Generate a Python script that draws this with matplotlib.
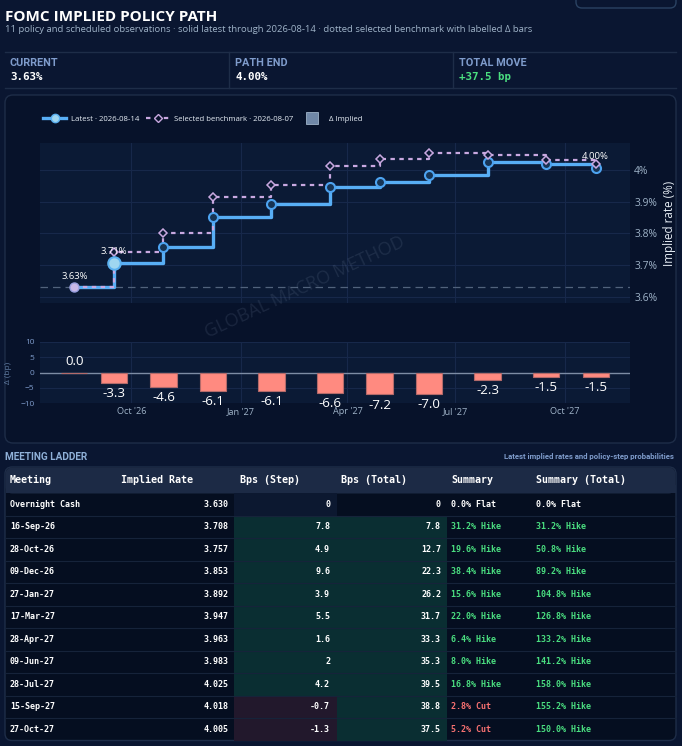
import matplotlib
matplotlib.use("Agg")
import matplotlib.pyplot as plt
import matplotlib.dates as mdates
from matplotlib.patches import FancyBboxPatch, Rectangle
from matplotlib.lines import Line2D
import numpy as np
import pandas as pd

W, H = 682, 746

# ---- data ----
meetings = ["Overnight Cash", "16-Sep-26", "28-Oct-26", "09-Dec-26", "27-Jan-27",
            "17-Mar-27", "28-Apr-27", "09-Jun-27", "28-Jul-27", "15-Sep-27", "27-Oct-27"]
dates = pd.to_datetime(["2026-08-14", "2026-09-16", "2026-10-28", "2026-12-09", "2027-01-27",
                        "2027-03-17", "2027-04-28", "2027-06-09", "2027-07-28", "2027-09-15",
                        "2027-10-27"])
implied = [3.630, 3.708, 3.757, 3.853, 3.892, 3.947, 3.963, 3.983, 4.025, 4.018, 4.005]
delta_bp = [0.0, -3.3, -4.6, -6.1, -6.1, -6.6, -7.2, -7.0, -2.3, -1.5, -1.5]
step_bp = [0, 7.8, 4.9, 9.6, 3.9, 5.5, 1.6, 2, 4.2, -0.7, -1.3]
total_bp = [0, 7.8, 12.7, 22.3, 26.2, 31.7, 33.3, 35.3, 39.5, 38.8, 37.5]
step_prob = [0.0, 31.2, 19.6, 38.4, 15.6, 22.0, 6.4, 8.0, 16.8, 2.8, 5.2]
total_prob = [0.0, 31.2, 50.8, 89.2, 104.8, 126.8, 133.2, 141.2, 158.0, 155.2, 150.0]
columns = ["Meeting", "Implied Rate", "Bps (Step)", "Bps (Total)", "Summary", "Summary (Total)"]

benchmark = np.array(implied) - np.array(delta_bp) / 100.0

# ---- colours ----
PAGE = "#0a1631"
PANEL = "#07122a"
PLOT = "#0b1a35"
LINE = "#1e2d48"
GRID = "#17284a"
MUTED = "#9fb3c8"
LABEL = "#7f9ccc"
BLUE = "#58aef5"
LAV = "#c8a8e0"
GREEN = "#4ade80"
RED = "#f87171"
SANS = ["Open Sans", "DejaVu Sans"]
COND = ["Roboto", "DejaVu Sans"]
MONO = ["DejaVu Sans Mono"]

fig = plt.figure(figsize=(W / 100, H / 100), dpi=100, facecolor=PAGE)

bg = fig.add_axes([0, 0, 1, 1], zorder=0)
bg.set_xlim(0, W)
bg.set_ylim(H, 0)
bg.axis("off")

# header
bg.text(5, 17, "FOMC IMPLIED POLICY PATH", fontsize=11, fontweight="bold",
        color="white", family=SANS, va="center")
bg.text(5, 30, "11 policy and scheduled observations · solid latest through 2026-08-14 · "
        "dotted selected benchmark with labelled \u0394 bars",
        fontsize=6.8, color=MUTED, family=SANS, va="center")
bg.add_patch(FancyBboxPatch((576, -12), 100, 20, boxstyle="round,pad=0,rounding_size=6",
                            fc=PAGE, ec="#2a4262", lw=1))

# stat strip
bg.plot([5, 676], [52, 52], color=LINE, lw=1)
bg.plot([5, 676], [88, 88], color=LINE, lw=1)
for xv in [229, 453]:
    bg.plot([xv, xv], [52, 88], color=LINE, lw=1)
stats = [("CURRENT", "3.63%", "white"), ("PATH END", "4.00%", "white"),
         ("TOTAL MOVE", "+37.5 bp", GREEN)]
for (lab, val, col), xs in zip(stats, [10, 235, 459]):
    bg.text(xs, 63, lab, fontsize=7.8, fontweight="bold", color=LABEL, family=COND, va="center")
    bg.text(xs, 77, val, fontsize=7.8, fontweight="bold", color=col, family=MONO, va="center")

# chart panel
bg.add_patch(FancyBboxPatch((5, 95), 671, 348, boxstyle="round,pad=0,rounding_size=8",
                            fc=PANEL, ec=LINE, lw=1))

xmin, xmax = mdates.date2num(pd.Timestamp("2026-07-16")), mdates.date2num(pd.Timestamp("2027-11-25"))
xd = mdates.date2num(dates)

# main path axes
ax = fig.add_axes([40 / W, 1 - 303 / H, 590 / W, 160 / H], zorder=2)
ax.set_facecolor(PLOT)
ax.set_xlim(xmin, xmax)
ax.set_ylim(3.581, 4.085)
for s in ax.spines.values():
    s.set_visible(False)
ax.xaxis.set_major_locator(mdates.MonthLocator(bymonth=[1, 4, 7, 10]))
ax.set_xticklabels([])
ax.tick_params(axis="x", length=0)
ax.set_yticks([3.6, 3.7, 3.8, 3.9, 4.0])
ax.set_yticklabels([f"{v:g}%" for v in [3.6, 3.7, 3.8, 3.9, 4.0]])
ax.yaxis.tick_right()
ax.yaxis.set_label_position("right")
ax.tick_params(axis="y", length=0, pad=3, labelsize=7.4, labelcolor=MUTED)
for lab in ax.get_yticklabels():
    lab.set_family(SANS)
ax.set_ylabel("Implied rate (%)", fontsize=8.4, color="#e6edf5", family=SANS, labelpad=4)
ax.grid(True, color=GRID, lw=0.8)
ax.set_axisbelow(True)
ax.axhline(implied[0], color="#51627c", lw=0.9, ls=(0, (6, 4)), zorder=1)

ax.plot(xd, implied, drawstyle="steps-post", color=BLUE, lw=2.4, zorder=3)
ax.plot(xd[2:], implied[2:], ls="none", marker="o", ms=6.5, mfc="#173454", mec="#4da3f0",
        mew=1.5, zorder=5)
ax.plot(xd, benchmark, drawstyle="steps-post", color=LAV, lw=1.6, ls=(0, (2, 2)), zorder=4)
ax.plot(xd[1:], benchmark[1:], ls="none", marker="D", ms=4.5, mfc=PLOT, mec=LAV, mew=1.1,
        zorder=5)
ax.plot(xd[0], implied[0], marker="o", ms=6.5, mfc="#c9b8e8", mec="#9aa0e0", mew=1, zorder=6)
ax.plot(xd[1], implied[1], marker="o", ms=9, mfc="#9fd6f0", mec="#5ab0f0", mew=1.5, zorder=6)
for i in [0, 1, len(implied) - 1]:
    ax.annotate(f"{implied[i]:.2f}%", (xd[i], implied[i]), xytext=(0, 5),
                textcoords="offset points", ha="center", va="bottom", fontsize=6.8,
                color="white", family=SANS, zorder=7)

handles = [Line2D([], [], color=BLUE, lw=2.4, marker="o", ms=6, mfc="#9fd6f0", mec="#5ab0f0"),
           Line2D([], [], color=LAV, lw=1.6, ls=(0, (2, 2)), marker="D", ms=4.5, mfc=PANEL,
                  mec=LAV),
           Line2D([], [], ls="none", marker="s", ms=9, mfc="#7088a8", mec="#9fb3c8", mew=0.6)]
leg = fig.legend(handles, ["Latest · 2026-08-14", "Selected benchmark · 2026-08-07", "\u0394 Implied"],
                 loc="center left", bbox_to_anchor=(36 / W, 1 - 119 / H), ncol=3, frameon=False,
                 fontsize=5.6, handlelength=3.0, columnspacing=0.9, handletextpad=0.6)
for t in leg.get_texts():
    t.set_color("#e6edf5")
    t.set_family(SANS)

# delta bars axes
bx = fig.add_axes([40 / W, 1 - 403 / H, 590 / W, 61 / H], zorder=2)
bx.set_facecolor(PLOT)
bx.set_xlim(xmin, xmax)
bx.set_ylim(-10, 10)
for s in bx.spines.values():
    s.set_visible(False)
bx.xaxis.set_major_locator(mdates.MonthLocator(bymonth=[1, 4, 7, 10]))
bx.xaxis.set_major_formatter(mdates.DateFormatter("%b '%y"))
bx.set_yticks([-10, -5, 0, 5, 10])
bx.tick_params(axis="x", length=0, pad=3, labelsize=6.6, labelcolor=MUTED)
bx.tick_params(axis="y", length=0, pad=4, labelsize=6, labelcolor=LABEL)
for lab in bx.get_xticklabels() + bx.get_yticklabels():
    lab.set_family(SANS)
bx.grid(True, color=GRID, lw=0.8)
bx.set_axisbelow(True)
bx.axhline(0, color="#7d8ca4", lw=1, zorder=2)
bx.set_ylabel("\u0394 (bp)", fontsize=6, color="#5f7aa0", family=SANS, labelpad=6)
bx.bar(xd, delta_bp, width=22, color="#ff8a80", edgecolor="#b36a6a", lw=0.8, zorder=3)
for x, v in zip(xd, delta_bp):
    if v < 0:
        bx.annotate(f"{v:.1f}", (x, v), xytext=(0, -3), textcoords="offset points",
                    ha="center", va="top", fontsize=9.6, color="white", family=SANS,
                    zorder=6, annotation_clip=False)
    else:
        bx.annotate(f"{v:.1f}", (x, v), xytext=(0, 3), textcoords="offset points",
                    ha="center", va="bottom", fontsize=9.6, color="white", family=SANS,
                    zorder=6, annotation_clip=False)

fig.text(305 / W, 1 - 287 / H, "GLOBAL MACRO METHOD", rotation=25, fontsize=13,
         color="#8a9ab8", alpha=0.15, ha="center", va="center", family=SANS, zorder=10)

# meeting ladder
bg.text(5, 457, "MEETING LADDER", fontsize=7.2, fontweight="bold", color="#8fb0d8",
        family=COND, va="center")
bg.text(674, 457, "Latest implied rates and policy-step probabilities", fontsize=5.6,
        fontweight="bold", color=LABEL, family=COND, va="center", ha="right")

top, hdr, rowh = 467, 26, 22.5
bottom = top + hdr + rowh * len(meetings)
bg.add_patch(FancyBboxPatch((5, top), 671, bottom - top, boxstyle="round,pad=0,rounding_size=7",
                            fc="#050e20", ec=LINE, lw=1))
bg.add_patch(FancyBboxPatch((5.5, top + 0.5), 670, hdr, boxstyle="round,pad=0,rounding_size=7",
                            fc="#1c2a45", ec="none"))
bg.add_patch(Rectangle((5.5, top + hdr - 8), 670, 8, fc="#1c2a45", ec="none"))

hdr_x = [10, 121, 240, 341, 451, 536]
for c, xs in zip(columns, hdr_x):
    bg.text(xs, top + hdr / 2, c, fontsize=7.2, fontweight="bold", color="white",
            family=MONO, va="center")

for i, name in enumerate(meetings):
    y0 = top + hdr + rowh * i
    yc = y0 + rowh / 2
    st, tt = step_bp[i], total_bp[i]
    if st > 0:
        fc_s = "#0a2e32"
    elif st < 0:
        fc_s = "#22182c"
    else:
        fc_s = "#0c1830"
    bg.add_patch(Rectangle((234, y0), 103, rowh, fc=fc_s, ec="none"))
    if tt > 0:
        bg.add_patch(Rectangle((337, y0), 110, rowh, fc="#0a2e32", ec="none"))
    if i > 0:
        bg.plot([5.5, 675.5], [y0, y0], color="#16233a", lw=0.8)
    kind = "Flat" if st == 0 else ("Hike" if st > 0 else "Cut")
    kind_t = "Flat" if tt == 0 else ("Hike" if tt > 0 else "Cut")
    col_s = {"Flat": "white", "Hike": GREEN, "Cut": RED}[kind]
    col_t = {"Flat": "white", "Hike": GREEN, "Cut": RED}[kind_t]
    kw = dict(fontsize=6, fontweight="bold", family=MONO, va="center")
    bg.text(10, yc, name, color="white", **kw)
    bg.text(229, yc, f"{implied[i]:.3f}", color="white", ha="right", **kw)
    bg.text(330, yc, f"{st:g}", color="white", ha="right", **kw)
    bg.text(441, yc, f"{tt:g}", color="white", ha="right", **kw)
    bg.text(451, yc, f"{step_prob[i]:.1f}% {kind}", color=col_s, **kw)
    bg.text(536, yc, f"{total_prob[i]:.1f}% {kind_t}", color=col_t, **kw)

fig.savefig("out.png", dpi=100, facecolor=PAGE)
